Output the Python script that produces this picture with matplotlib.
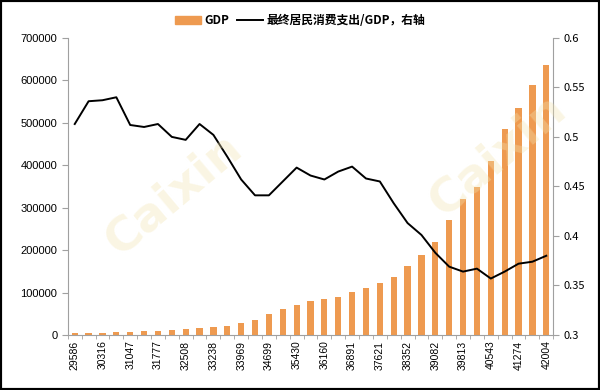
import numpy as np
import matplotlib.pyplot as plt
from matplotlib.patches import Rectangle
from matplotlib.lines import Line2D

plt.rcParams['font.family'] = ['Noto Sans CJK SC', 'DejaVu Sans']

# excel date serials (year-end 1980..2014), labelled every other year
dates = [29586, 29951, 30316, 30681, 31047, 31412, 31777, 32142, 32508, 32873,
         33238, 33603, 33969, 34334, 34699, 35064, 35430, 35795, 36160, 36525,
         36891, 37256, 37621, 37986, 38352, 38717, 39082, 39447, 39813, 40178,
         40543, 40908, 41274, 41639, 42004]

gdp = [4588, 4936, 5373, 6021, 7279, 9099, 10376, 12175, 15180, 17180,
       18873, 22006, 27195, 35674, 48638, 61340, 71814, 79715, 85196, 90564,
       100280, 110863, 121717, 137422, 161840, 187319, 219439, 270232, 319516, 348518,
       408903, 484124, 534123, 588019, 636139]

ratio = [0.513, 0.536, 0.537, 0.540, 0.512, 0.510, 0.513, 0.500, 0.497, 0.513,
         0.502, 0.480, 0.457, 0.441, 0.441, 0.455, 0.469, 0.461, 0.457, 0.465,
         0.470, 0.458, 0.455, 0.433, 0.413, 0.401, 0.383, 0.369, 0.364, 0.367,
         0.357, 0.364, 0.372, 0.374, 0.380]

bar_color = '#EE9A50'
grey = '#A0A0A0'

fig = plt.figure(figsize=(6, 3.9), dpi=100)
ax = fig.add_axes([0.113, 0.141, 0.809, 0.762])
x = np.arange(len(dates))

ax.bar(x, gdp, width=0.45, color=bar_color, zorder=2)
ax.set_xlim(-0.5, len(dates) - 0.5)
ax.set_ylim(0, 700000)
ax.set_yticks(range(0, 700001, 100000))
ax.set_yticklabels([str(v) for v in range(0, 700001, 100000)], fontsize=8, family='Liberation Sans')

ax.set_xticks(x[::2])
ax.set_xticklabels([str(d) for d in dates[::2]], rotation=90, fontsize=7.5, family='Liberation Sans')
ax.set_xticks(np.arange(-0.5, len(dates), 1), minor=True)
ax.tick_params(axis='x', which='major', length=0, pad=4)
ax.tick_params(axis='x', which='minor', length=3, color=grey)
ax.tick_params(axis='y', length=4, color=grey, direction='out')

for s in ['top', 'right']:
    ax.spines[s].set_visible(False)
for s in ['left', 'bottom']:
    ax.spines[s].set_color(grey)

ax2 = ax.twinx()
ax2.plot(x, ratio, color='black', lw=1.4, zorder=3, solid_joinstyle='round')
ax2.set_ylim(0.3, 0.6)
ax2.set_yticks([0.3, 0.35, 0.4, 0.45, 0.5, 0.55, 0.6])
ax2.set_yticklabels(['0.3', '0.35', '0.4', '0.45', '0.5', '0.55', '0.6'], fontsize=8)
ax2.tick_params(axis='y', length=4, color=grey, direction='out')
for s in ['top', 'left', 'bottom']:
    ax2.spines[s].set_visible(False)
ax2.spines['right'].set_color(grey)

# watermark
for (wx, wy) in [(0.29, 0.50), (0.83, 0.60)]:
    fig.text(wx, wy, 'Caixin', fontsize=34, fontweight='bold', color='#F2E4B0',
             alpha=0.35, rotation=40, ha='center', va='center', family='DejaVu Sans', zorder=5)

handles = [Rectangle((0, 0), 1, 1, color=bar_color), Line2D([0], [0], color='black', lw=1.4)]
fig.legend(handles, ['GDP', '最终居民消费支出/GDP，右轴'], loc='center', bbox_to_anchor=(0.5, 0.948),
           ncol=2, frameon=False, handlelength=2.2, columnspacing=0.6, handletextpad=0.3,
           prop={'weight': 'bold', 'size': 8.5})

fig.patches.append(Rectangle((0, 0), 1, 1, transform=fig.transFigure, fill=False,
                             edgecolor='black', lw=3, zorder=10))

fig.savefig('out.png', dpi=100)
